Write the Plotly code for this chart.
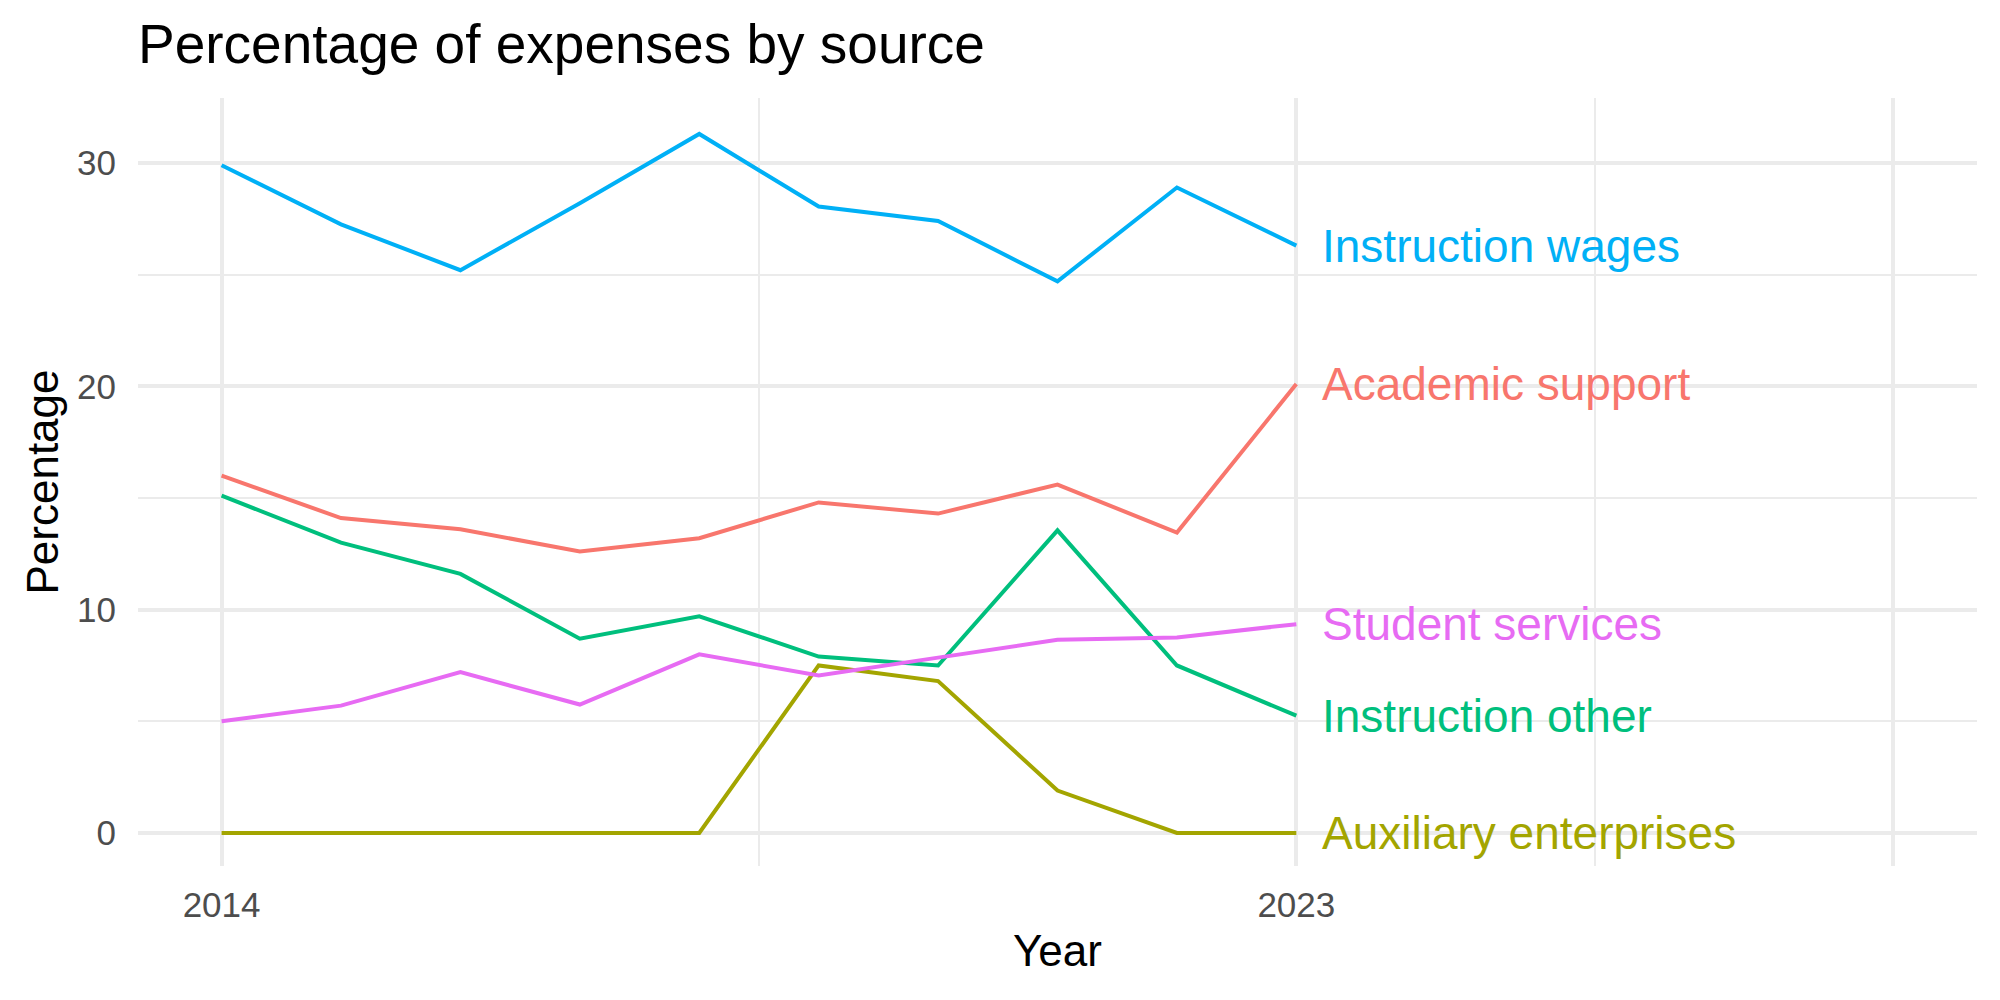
import plotly.graph_objects as go

years = [2014, 2015, 2016, 2017, 2018, 2019, 2020, 2021, 2022, 2023]
academic_support = [16.0, 14.1, 13.6, 12.6, 13.2, 14.8, 14.3, 15.6, 13.45, 20.1]
auxiliary_enterprises = [0, 0, 0, 0, 0, 7.5, 6.8, 1.9, 0, 0]
instruction_other = [15.1, 13.0, 11.6, 8.7, 9.7, 7.9, 7.5, 13.55, 7.5, 5.25]
instruction_wages = [29.9, 27.25, 25.2, 28.2, 31.3, 28.05, 27.4, 24.7, 28.9, 26.3]
student_services = [5.0, 5.7, 7.2, 5.75, 8.0, 7.05, 7.85, 8.65, 8.75, 9.35]

series = [
    ("Academic support", academic_support, "#F8766D"),
    ("Auxiliary enterprises", auxiliary_enterprises, "#A3A500"),
    ("Instruction other", instruction_other, "#00BF7D"),
    ("Instruction wages", instruction_wages, "#00B0F6"),
    ("Student services", student_services, "#E76BF3"),
]

x_ticks = [2014, 2023, 2028]
x_tick_text = ["2014", "2023", ""]
y_ticks = [0, 10, 20, 30]

FONT = "Liberation Sans, Arial, Helvetica, sans-serif"
GRID = "#EBEBEB"

fig = go.Figure()
for name, vals, col in series:
    fig.add_trace(go.Scatter(x=years, y=vals, mode="lines", name=name,
                             line=dict(color=col, width=4), showlegend=False))
    fig.add_annotation(x=years[-1] + 0.2, y=vals[-1], text=name, showarrow=False,
                       xanchor="left", yanchor="middle", xref="x", yref="y",
                       font=dict(family=FONT, size=46, color=col))

fig.update_layout(
    width=2000, height=1000,
    paper_bgcolor="white", plot_bgcolor="white",
    margin=dict(l=138, r=23, t=98, b=134),
    font=dict(family=FONT),
    title=dict(text="Percentage of expenses by source", x=0.069, xanchor="left",
               xref="container", y=0.956, yref="container", yanchor="middle",
               font=dict(family=FONT, size=55, color="black")),
)
fig.update_xaxes(range=[2013.3, 2028.7], tickvals=x_ticks, ticktext=x_tick_text,
                 showgrid=True, gridcolor=GRID, gridwidth=3.5, zeroline=False, showline=False,
                 ticks="outside", ticklen=8, tickcolor="rgba(0,0,0,0)",
                 tickfont=dict(family=FONT, size=35, color="#4D4D4D"),
                 minor=dict(tickvals=[2018.5, 2025.5], showgrid=True, gridcolor=GRID, gridwidth=1.8),
                 title=dict(text="Year", font=dict(family=FONT, size=44, color="black"), standoff=12))
fig.update_yaxes(range=[-1.48, 32.91], tickvals=y_ticks,
                 showgrid=True, gridcolor=GRID, gridwidth=3.5, zeroline=False, showline=False,
                 ticks="outside", ticklen=14, tickcolor="rgba(0,0,0,0)",
                 tickfont=dict(family=FONT, size=35, color="#4D4D4D"),
                 minor=dict(tickvals=[5, 15, 25], showgrid=True, gridcolor=GRID, gridwidth=1.8),
                 title=dict(text="Percentage", font=dict(family=FONT, size=44, color="black"), standoff=4))

fig.write_html("out.html")
